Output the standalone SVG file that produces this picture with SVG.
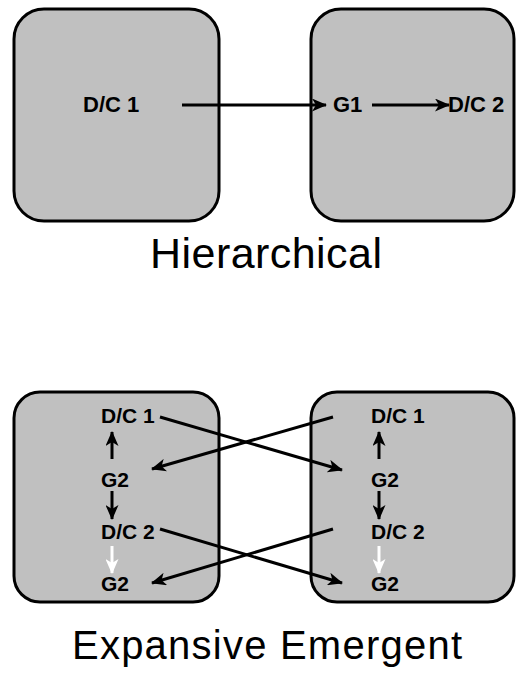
<svg xmlns="http://www.w3.org/2000/svg" width="516" height="674" viewBox="0 0 516 674">
<style>
.box{fill:#c0c0c0;stroke:#000;stroke-width:3}
.lbl{font-family:"Liberation Sans",Arial,sans-serif;font-weight:bold;fill:#000}
.top{font-size:22px}
.bot{font-size:21px}
.title{font-family:"Liberation Sans",Arial,sans-serif;fill:#000}
.ln{stroke:#000;stroke-width:3;fill:none}
.wl{stroke:#fff;stroke-width:3;fill:none}
</style>
<defs>
<marker id="ah" markerUnits="userSpaceOnUse" markerWidth="15" markerHeight="13" refX="14" refY="6.5" orient="auto">
<path d="M0,0 L15,6.5 L0,13 L4,6.5 z" fill="#000"/>
</marker>
<marker id="ahw" markerUnits="userSpaceOnUse" markerWidth="15" markerHeight="13" refX="14" refY="6.5" orient="auto">
<path d="M0,0 L15,6.5 L0,13 L4,6.5 z" fill="#fff"/>
</marker>
</defs>
<rect width="516" height="674" fill="#fff"/>
<g id="h-left"><rect class="box" x="14" y="9" width="205" height="212" rx="30"/><text class="lbl top" x="83" y="112">D/C 1</text></g>
<g id="h-right"><rect class="box" x="311" y="9" width="203" height="212" rx="30"/><text class="lbl top" x="333" y="112">G1</text><text class="lbl top" x="448" y="112">D/C 2</text></g>
<g id="h-title"><text class="title" x="150" y="268" font-size="43" textLength="232">Hierarchical</text></g>
<g id="e-left"><rect class="box" x="14" y="392" width="205" height="210" rx="26"/>
<text class="lbl bot" x="101" y="423">D/C 1</text>
<text class="lbl bot" x="101" y="487">G2</text>
<text class="lbl bot" x="101" y="539">D/C 2</text>
<text class="lbl bot" x="101" y="591">G2</text></g>
<g id="e-right"><rect class="box" x="311" y="392" width="203" height="210" rx="26"/>
<text class="lbl bot" x="371" y="423">D/C 1</text>
<text class="lbl bot" x="371" y="487">G2</text>
<text class="lbl bot" x="371" y="539">D/C 2</text>
<text class="lbl bot" x="371" y="591">G2</text></g>
<g id="e-title"><text class="title" x="72" y="659" font-size="40" textLength="390">Expansive Emergent</text></g>
<g id="connectors">
<line class="ln" x1="182" y1="105" x2="326" y2="105" marker-end="url(#ah)"/>
<line class="ln" x1="372" y1="105" x2="449" y2="105" marker-end="url(#ah)"/>
<line class="ln" x1="112" y1="459" x2="112" y2="432" marker-end="url(#ah)"/>
<line class="ln" x1="112" y1="491" x2="112" y2="519" marker-end="url(#ah)"/>
<line class="wl" x1="112" y1="546" x2="112" y2="573" marker-end="url(#ahw)"/>
<line class="ln" x1="379" y1="459" x2="379" y2="432" marker-end="url(#ah)"/>
<line class="ln" x1="379" y1="491" x2="379" y2="519" marker-end="url(#ah)"/>
<line class="wl" x1="379" y1="546" x2="379" y2="573" marker-end="url(#ahw)"/>
<line class="ln" x1="160" y1="417" x2="342" y2="470" marker-end="url(#ah)"/>
<line class="ln" x1="333" y1="417" x2="152" y2="469" marker-end="url(#ah)"/>
<line class="ln" x1="160" y1="529" x2="342" y2="583" marker-end="url(#ah)"/>
<line class="ln" x1="333" y1="529" x2="152" y2="583" marker-end="url(#ah)"/>
</g>
</svg>
